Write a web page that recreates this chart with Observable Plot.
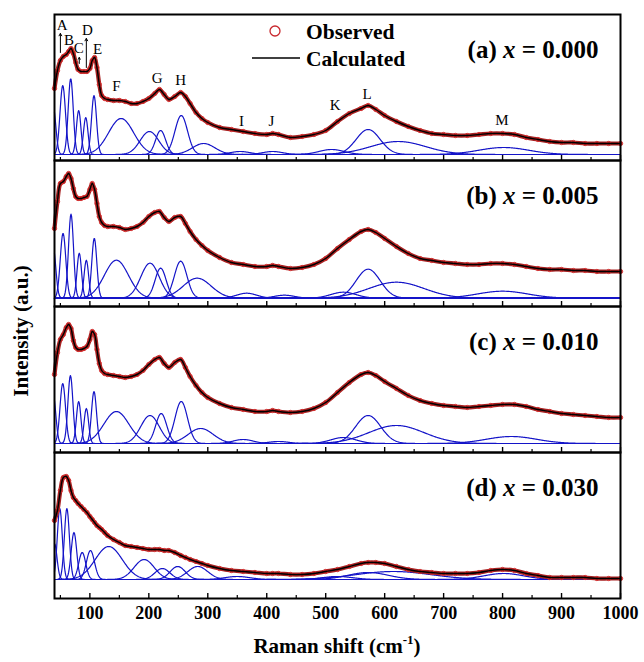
<!DOCTYPE html>
<html><head><meta charset="utf-8">
<script src="https://cdn.jsdelivr.net/npm/d3@7"></script>
<script src="https://cdn.jsdelivr.net/npm/@observablehq/plot@0.6"></script>
<style>
body{margin:0;background:#fff;}
#chart svg{font-family:"Liberation Serif","Times New Roman",serif;}
</style>
</head><body><div id="chart"></div>
<script>
// ---------------- data ----------------
const panels = ["a","b","c","d"];
const compositions = ["0.000","0.005","0.010","0.030"];
const majorTicks = [100,200,300,400,500,600,700,800,900,1000];
const minorTicks = [50,150,250,350,450,550,650,750,850,950];

// Raman shift grid (cm^-1) on which the observed spectra were read
const shift = [40,45,50,55,60,64,68,72,76,80,85,90,95,100,104,108,112,116,120,125,130,140,150,160,170,180,190,200,210,218,226,234,244,254,262,270,280,290,300,320,340,360,380,400,410,420,440,460,480,500,520,540,560,572,585,600,620,640,660,680,700,720,740,760,780,800,820,840,860,880,900,920,940,960,980,1000];

const obsA = [72,90,100,104,106,109,112,107,98,91,89,89,89,92,100,103,93,76,65,62,61,60,60,59,57,57,59,62,67,71,66,61,64,68,64,57,48,42,38,33,31,29,27,26,27,26,23,24,26,30,39,47,52,55,51,45,39,34,30,27,26,25,25,26,27,27,26,23,21,19,18,18,17,17,17,17];
const obsB = [78,105,123,125,130,133,128,118,110,108,108,109,110,117,123,117,103,90,84,81,80,80,79,77,78,80,84,90,94,95,89,85,89,90,83,75,67,61,56,49,44,42,40,40,41,40,38,39,42,48,58,67,75,77,74,68,60,53,48,46,44,43,42,42,43,43,42,40,38,37,37,36,36,35,35,35];
const obsC = [78,100,113,118,125,128,124,112,105,103,103,104,106,113,121,118,103,89,82,79,78,77,76,75,76,78,82,88,93,95,89,85,90,93,85,76,67,60,55,49,45,43,41,41,42,41,40,41,44,50,60,70,78,80,77,71,64,57,52,49,47,46,45,46,47,48,48,46,43,41,39,38,37,36,35,35];
const obsD = [78,88,108,121,122,118,108,101,98,95,92,89,86,82,79,76,73,71,69,66,63,59,56,53,52,51,50,49,49,49,48,48,46,43,41,39,37,35,33,30,28,27,26,25,25,25,24,24,25,27,29,32,35,36,36,35,32,29,27,26,25,25,25,26,28,29,28,25,23,21,21,21,21,20,20,20];

// fitted components: centre (cm^-1), height, FWHM (cm^-1), and baseline per panel
const centerA = [38,54,67.5,81,93,107,153,201,220,255,293,355,410,510,572,623,802];
const heightA = [47,69,76,44,37,59,36,23,24,39,11,3,3,5,25,13,7];
const fwhmA   = [10,11,10,9,9,10,50,37,20,25,45,40,40,50,48,110,100];
const centerB = [38,54.5,68,82,94,107.5,145,202,220,254,282,366,430,530,572,620,800];
const heightB = [50,65,84,45,38,60,38,35,30,37,20,5,3,6,29,16,7];
const fwhmB   = [10,11,10,9,9,10,48,37,22,25,56,40,40,50,48,110,100];
const centerC = [38,54,67,81,94,107,145,202,221,255,288,360,420,530,572,620,815];
const heightC = [48,60,68,42,35,52,32,28,30,42,15,4,2,6,28,18,7];
const fwhmC   = [10,11,10,9,9,10,50,37,22,25,50,40,40,50,50,110,100];
const centerD = [40,49,61,73,87,101,132,192,223,249,283,350,520,572,615,802];
const heightD = [36,71,71,47,27,29,33,20,11,13,13,3,3,7,8,6];
const fwhmD   = [10,10,10,11,14,16,54,40,30,30,40,50,60,80,150,80];
const baseline = [6,8.3,9,19];

// peak letters (panel a) and arrows
const peakLetters = ["A","B","C","D","E","F","G","H","I","J","K","L","M"];
const letterX = [53,64.5,81,96,113,145,214,254,357,408,516,570,799];
const letterY = [135,120,112,130,111,74,82,80,39,39,55,66,40];
const arrowX = [50,82,94];
const arrowFrom = [108,97,93];
const arrowTo = [127,103,122];

// ---------------- build tables ----------------
const obsSets = [obsA,obsB,obsC,obsD];
const peakSets = [[centerA,heightA,fwhmA],[centerB,heightB,fwhmB],[centerC,heightC,fwhmC],[centerD,heightD,fwhmD]];
const obsRows = [];
panels.forEach((p,i)=>shift.forEach((x,j)=>obsRows.push({panel:p,x,y:obsSets[i][j]})));
const compRows = [];
panels.forEach((p,i)=>{
  const [c,h,w] = peakSets[i];
  c.forEach((cc,k)=>{
    const s = w[k]/2.3548;
    for(let x=40;x<=1000;x+=1){
      compRows.push({panel:p,id:p+k,x,y:baseline[i]+h[k]*Math.exp(-0.5*((x-cc)/s)**2)});
    }
  });
});
const labelRows = panels.map((p,i)=>({panel:p,label:`(${p}) x = ${compositions[i]}`}));
const letterRows = peakLetters.map((t,i)=>({panel:"a",t,x:letterX[i],y:letterY[i]}));
const arrowRows = arrowX.map((x,i)=>({panel:"a",x,y1:arrowFrom[i],y2:arrowTo[i]}));

const serif = "Liberation Serif, Times New Roman, serif";
const chart = Plot.plot({
  width:644, height:662,
  marginTop:14, marginBottom:64, marginLeft:54, marginRight:24,
  x:{domain:[40,1000]},
  y:{domain:[0,146], axis:null},
  fy:{domain:panels, paddingInner:0, paddingOuter:0, axis:null},
  style:{fontFamily:serif, background:"white", overflow:"visible"},
  marks:[
    Plot.line(compRows,{x:"x",y:"y",z:"id",fy:"panel",stroke:"#1414c8",strokeWidth:1.2}),
    Plot.line(obsRows,{x:"x",y:"y",fy:"panel",stroke:"#a82222",strokeWidth:4.2,curve:"catmull-rom"}),
    Plot.dot(obsRows,{x:"x",y:"y",fy:"panel",r:2.2,stroke:"#d62a2a",strokeWidth:0.9}),
    Plot.line(obsRows,{x:"x",y:"y",fy:"panel",stroke:"black",strokeWidth:1.4,curve:"catmull-rom"}),
    Plot.ruleX(majorTicks,{x:d=>d,y1:0,y2:5,stroke:"black",strokeWidth:1.4}),
    Plot.ruleX(minorTicks,{x:d=>d,y1:0,y2:3,stroke:"black",strokeWidth:1.2}),
    Plot.frame({stroke:"black",strokeWidth:2}),
    Plot.axisX(majorTicks,{tickSize:0,tickPadding:8,fontSize:18,fontWeight:"bold",label:null,fill:"black",tickFormat:d=>String(d)}),
    Plot.text(labelRows,{fy:"panel",text:"label",frameAnchor:"top-right",dx:-22,dy:26,fontSize:25,fontWeight:"bold",textAnchor:"end",fill:"black"}),
    Plot.text(letterRows,{fy:"panel",x:"x",y:"y",text:"t",fontSize:15,fill:"black"}),
    Plot.arrow(arrowRows,{fy:"panel",x:"x",y1:"y1",y2:"y2",stroke:"black",strokeWidth:1,headLength:4})
  ]
});

const svg = d3.select(chart);
// rich text for panel labels (italic x)
svg.selectAll("text").each(function(){
  const t = this.textContent;
  const m = /^(\([a-d]\)) x = (.*)$/.exec(t);
  if(m){
    const el = d3.select(this); el.text("");
    el.append("tspan").text(m[1]+" ");
    el.append("tspan").attr("font-style","italic").text("x");
    el.append("tspan").text(" = "+m[2]);
  }
});
// legend
const lg = svg.append("g").attr("font-family",serif).attr("font-weight","bold").attr("font-size",21.5).attr("text-anchor","start");
lg.append("circle").attr("cx",275).attr("cy",31).attr("r",5).attr("fill","none").attr("stroke","#c8282e").attr("stroke-width",1.3);
lg.append("text").attr("x",306).attr("y",31).attr("dy","0.35em").text("Observed");
lg.append("line").attr("x1",252).attr("x2",300).attr("y1",58).attr("y2",58).attr("stroke","black").attr("stroke-width",1.6);
lg.append("text").attr("x",306).attr("y",58).attr("dy","0.35em").text("Calculated");
// axis titles
const xt = svg.append("text").attr("x",337).attr("y",653).attr("text-anchor","middle")
  .attr("font-family",serif).attr("font-weight","bold").attr("font-size",21);
xt.append("tspan").text("Raman shift (cm");
xt.append("tspan").attr("font-size",13).attr("dy",-9).text("-1");
xt.append("tspan").attr("dy",9).text(")");
svg.append("text").attr("transform","translate(28,331) rotate(-90)").attr("text-anchor","middle")
  .attr("font-family",serif).attr("font-weight","bold").attr("font-size",21).text("Intensity (a.u.)");

document.getElementById("chart").appendChild(chart);
</script>
</body></html>
